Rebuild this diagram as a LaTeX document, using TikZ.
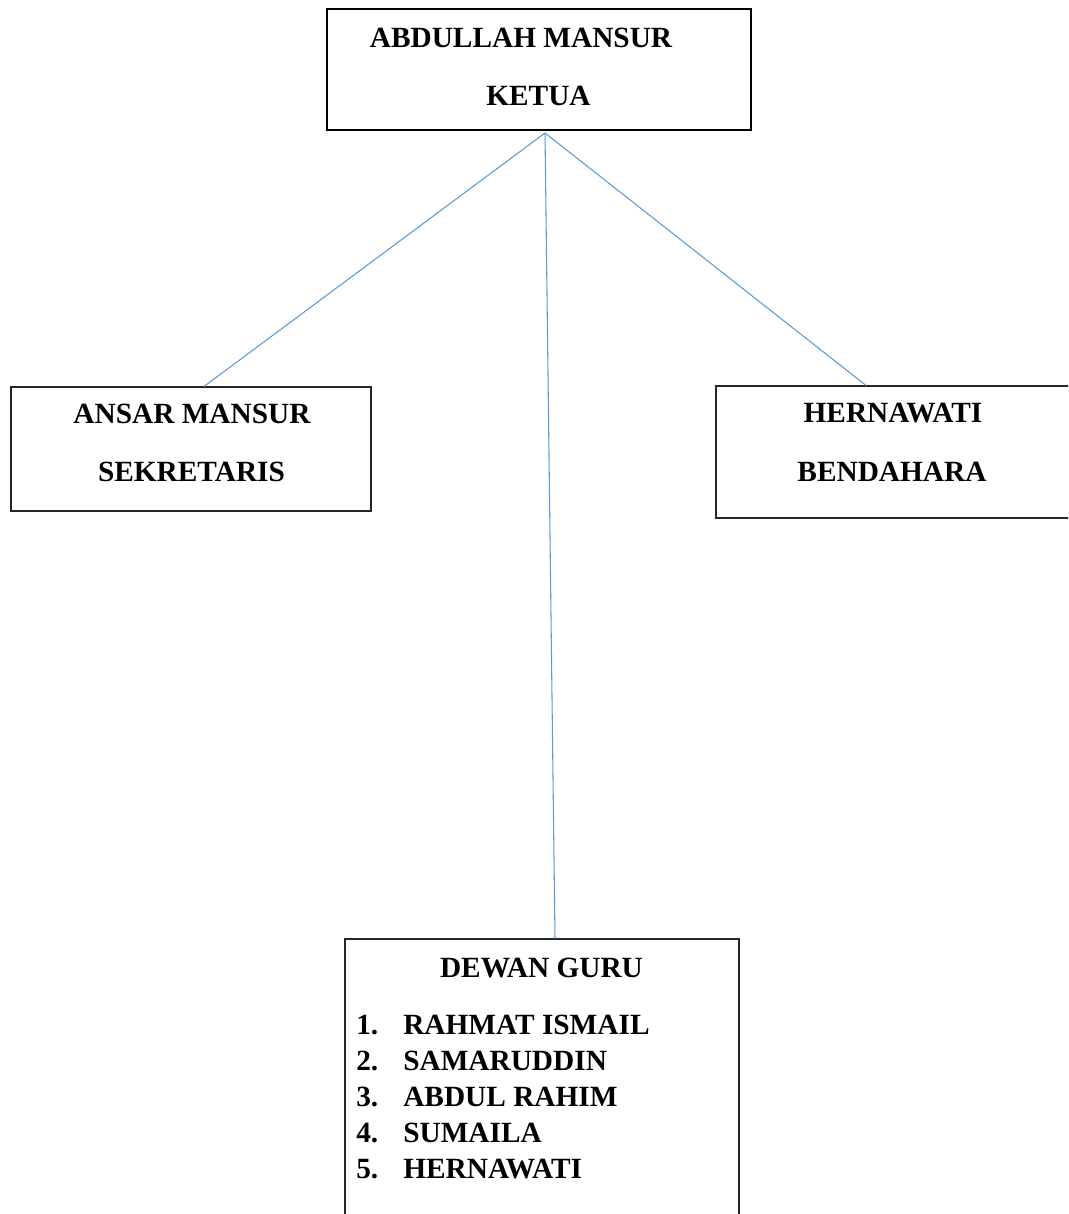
\documentclass[tikz,border=0pt]{standalone}
\usepackage{fontspec}
\setmainfont{Liberation Serif}
\usetikzlibrary{positioning,calc}
\definecolor{lineblue}{HTML}{5B9BD5}

\begin{document}
\begin{tikzpicture}
  [x=0.75pt,y=-0.75pt,
   boxN/.style={rectangle,draw=black!85,line width=0.8pt,inner sep=0pt},
   txtN/.style={inner sep=0pt,font=\fontsize{22}{26}\selectfont\bfseries},
   lineN/.style={draw=lineblue,line width=0.8pt}]

  \useasboundingbox (0,0) rectangle (1068,1214);
  \clip (0,0) rectangle (1068,1214);

  % boxes
  \node[boxN,line width=1.8pt,draw=black,minimum width=318pt,minimum height=90.75pt] (ketua) at (539,69.5) {};
  \node[boxN,minimum width=270pt,minimum height=93pt] (sek) at (191,449) {};
  \node[boxN,minimum width=267pt,minimum height=99pt] (bend) at (894,452) {};
  \node[boxN,minimum width=295.5pt,minimum height=210.75pt] (guru) at (542,1079.5) {};

  % texts
  \node[txtN] (ketuaA) at (521,38) {ABDULLAH MANSUR};
  \node[txtN] (ketuaB) at (538.5,96) {KETUA};
  \node[txtN] (sekA) at (192,414) {ANSAR MANSUR};
  \node[txtN] (sekB) at (191.5,472) {SEKRETARIS};
  \node[txtN] (bendA) at (893,413) {HERNAWATI};
  \node[txtN] (bendB) at (892,472) {BENDAHARA};
  \node[txtN] (guruT) at (541.5,968) {DEWAN GURU};

  \foreach \i/\nm [count=\k from 0] in {1/RAHMAT ISMAIL,2/SAMARUDDIN,3/ABDUL RAHIM,4/SUMAILA,5/HERNAWATI}{
    \node[txtN,anchor=west] (num\i) at (356,1025+36*\k) {\i.};
    \node[txtN,anchor=west] (nm\i) at (403,1025+36*\k) {\nm};
  }

  % connectors
  \coordinate (apex) at (545,133);
  \draw [lineN] (apex) -- ([xshift=9.75pt]sek.north);
  \draw [lineN] (apex) -- ([xshift=-21pt]bend.north);
  \draw [lineN] (apex) -- ([xshift=9.75pt]guru.north);
\end{tikzpicture}
\end{document}
